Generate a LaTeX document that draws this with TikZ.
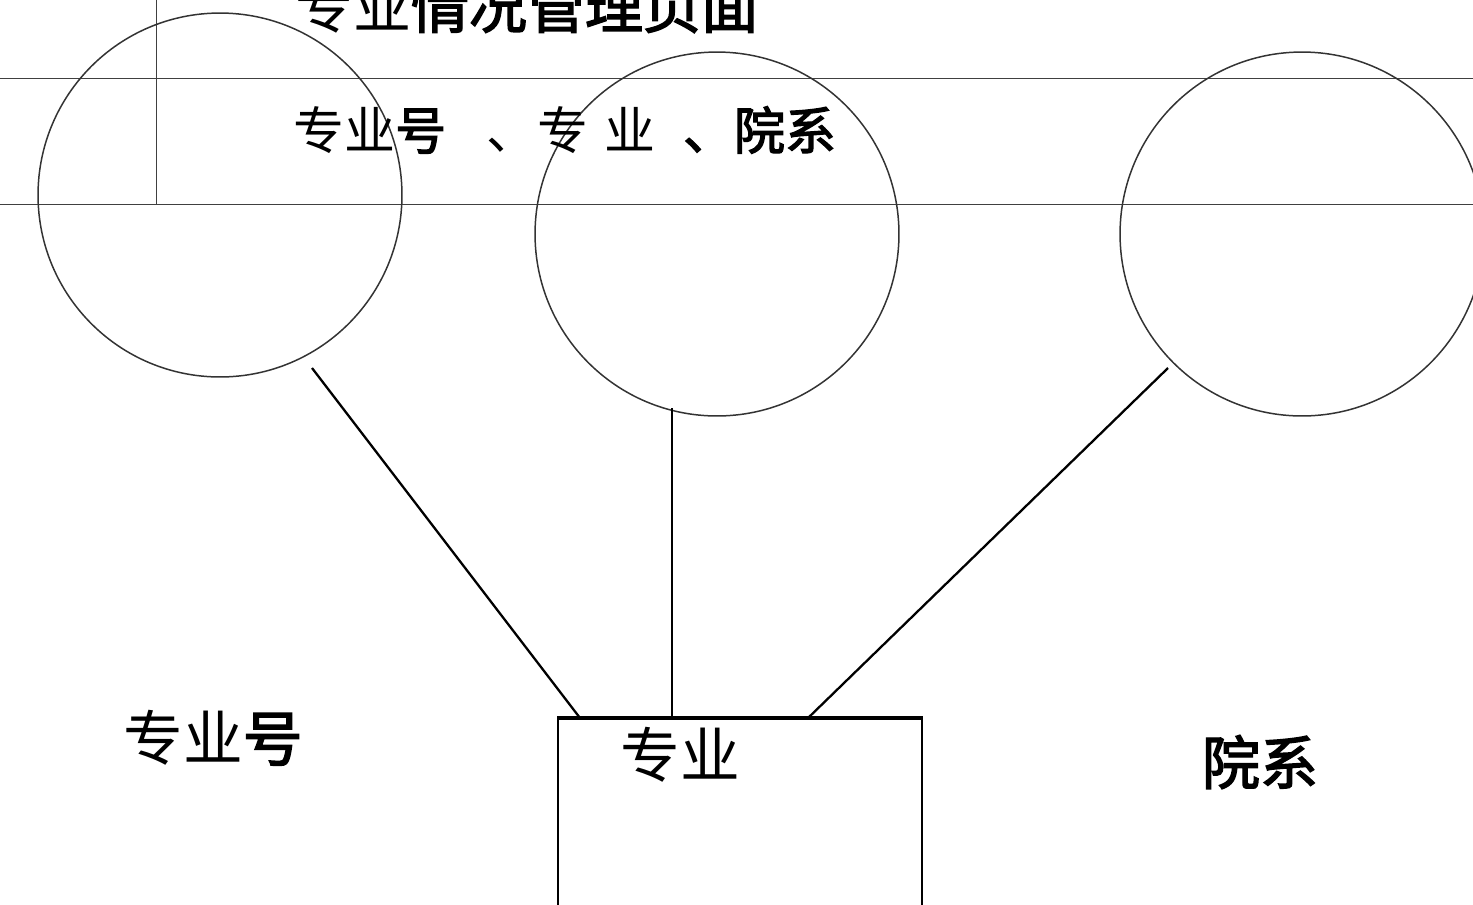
\documentclass[tikz,border=0pt]{standalone}
\usepackage{fontspec}
\newfontfamily\cjk{Noto Sans CJK SC}
\newfontfamily\cjkb[FakeBold=2.5]{Noto Sans CJK SC}
\begin{document}
\begin{tikzpicture}[x=0.02cm,y=-0.02cm,
  rule/.style={draw=black!75,line width=0.5pt},
  attr/.style={circle,draw=black!80,line width=0.85pt,minimum size=7.28cm,inner sep=0pt},
  conn/.style={draw=black,line width=1.3pt},
  lbl/.style={inner sep=0pt,anchor=center}]
\useasboundingbox (0,0) rectangle (1473,904);
\clip (0,0) rectangle (1473,904);
% ruled lines
\draw[rule] (0,78) -- (1473,78);
\draw[rule] (0,204) -- (1473,204);
\draw[rule] (156,0) -- (156,204);
% circles
\node[attr] (c1) at (220,195) {};
\node[attr] (c2) at (717,234) {};
\node[attr] (c3) at (1302,234) {};
% entity box
\node[draw=black,line width=1.2pt,minimum width=7.28cm,minimum height=4cm,anchor=north west,inner sep=0pt] (box) at (557,718) {};
\draw[black,line width=1.9pt] (box.north west) -- (box.north east);
\coordinate (b1) at (580,718);
\coordinate (b2) at (672,718);
\coordinate (b3) at (808,718);
\coordinate (t1) at (312,368);
\coordinate (t2) at (672,408);
\coordinate (t3) at (1168,368);
\draw[conn] (t1) -- (b1);
\draw[conn] (t2) -- (b2);
\draw[conn] (t3) -- (b3);
% texts
\node[lbl,font=\cjk\fontsize{33}{33}\selectfont] (title) at (527,6) {专业{\cjkb 情况管理页面}};
\node[lbl,font=\cjk\fontsize{29}{29}\selectfont,anchor=west] (attrs) at (293,130) {专业{\cjkb 号}\hspace{0.8em}、专\hspace{0.3em}业\hspace{0.55em}{\cjkb 、院系}};
\node[lbl,font=\cjk\fontsize{34}{34}\selectfont] (l1) at (213,738) {专业{\cjkb 号}};
\node[lbl,font=\cjk\fontsize{34}{34}\selectfont] (l2) at (680,755) {专业};
\node[lbl,font=\cjkb\fontsize{33}{33}\selectfont] (l3) at (1260,762) {院系};
\end{tikzpicture}
\end{document}
